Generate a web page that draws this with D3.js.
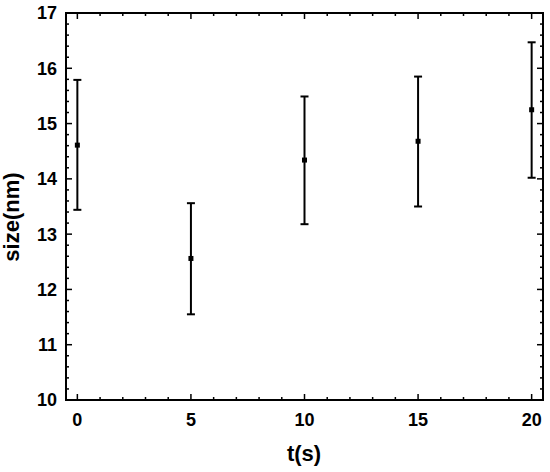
<!DOCTYPE html>
<html>
<head>
<meta charset="utf-8">
<style>
body { margin: 0; background: #fff; }
text { font-family: "Liberation Sans", Arial, sans-serif; font-weight: bold; fill: #000; }
</style>
</head>
<body>
<svg width="550" height="472"></svg>
<script src="https://cdn.jsdelivr.net/npm/d3@7"></script>
<script>
// data
var times = [0, 5, 10, 15, 20];
var sizes = [14.61, 12.56, 14.34, 14.68, 15.25];
var upper = [15.79, 13.56, 15.49, 15.85, 16.47];
var lower = [13.44, 11.55, 13.18, 13.50, 14.02];
var xTicks = [0, 5, 10, 15, 20];
var yTicks = [10, 11, 12, 13, 14, 15, 16, 17];

var svg = d3.select("svg"),
    margin = {left: 66, top: 13, right: 7, bottom: 72},
    width = 550 - margin.left - margin.right,
    height = 472 - margin.top - margin.bottom;

var x = d3.scaleLinear().domain([-0.5, 20.5]).range([0, width]);
var y = d3.scaleLinear().domain([10, 17]).range([height, 0]);

var g = svg.append("g").attr("transform", "translate(" + margin.left + "," + margin.top + ")");

// minor ticks
var xMinor = d3.range(0, 21, 1);
var yMinor = d3.range(10, 17.001, 0.2);

function tickLines(vals, major, horizontal) {
  vals.forEach(function(v) {
    var len = major.indexOf(Math.round(v * 10) / 10) >= 0 ? 6 : 3;
    if (horizontal) {
      g.append("line").attr("x1", x(v)).attr("x2", x(v)).attr("y1", height).attr("y2", height - len)
        .attr("stroke", "#000").attr("stroke-width", 1.5);
      g.append("line").attr("x1", x(v)).attr("x2", x(v)).attr("y1", 0).attr("y2", len)
        .attr("stroke", "#000").attr("stroke-width", 1.5);
    } else {
      g.append("line").attr("y1", y(v)).attr("y2", y(v)).attr("x1", 0).attr("x2", len)
        .attr("stroke", "#000").attr("stroke-width", 1.5);
      g.append("line").attr("y1", y(v)).attr("y2", y(v)).attr("x1", width).attr("x2", width - len)
        .attr("stroke", "#000").attr("stroke-width", 1.5);
    }
  });
}
tickLines(xMinor, xTicks, true);
tickLines(yMinor, yTicks, false);

// frame
g.append("rect").attr("width", width).attr("height", height)
  .attr("fill", "none").attr("stroke", "#000").attr("stroke-width", 2);

// tick labels
g.selectAll(".xl").data(xTicks).enter().append("text")
  .attr("x", function(d) { return x(d); }).attr("y", height + 26)
  .attr("text-anchor", "middle").style("font-size", "18px").text(function(d) { return d; });
g.selectAll(".yl").data(yTicks).enter().append("text")
  .attr("x", -9).attr("y", function(d) { return y(d); }).attr("dy", "0.36em")
  .attr("text-anchor", "end").style("font-size", "18px").text(function(d) { return d; });

// axis titles
svg.append("text").attr("x", 304).attr("y", 461)
  .attr("text-anchor", "middle").style("font-size", "22px").text("t(s)");
svg.append("text").attr("transform", "translate(19,217) rotate(-90)")
  .attr("text-anchor", "middle").style("font-size", "22px").text("size(nm)");

// error bars
var pts = times.map(function(t, i) { return {t: t, v: sizes[i], hi: upper[i], lo: lower[i]}; });
var eb = g.selectAll(".eb").data(pts).enter().append("g");
eb.append("line").attr("x1", function(d) { return x(d.t); }).attr("x2", function(d) { return x(d.t); })
  .attr("y1", function(d) { return y(d.hi); }).attr("y2", function(d) { return y(d.lo); })
  .attr("stroke", "#000").attr("stroke-width", 2);
eb.append("line").attr("x1", function(d) { return x(d.t) - 4; }).attr("x2", function(d) { return x(d.t) + 4; })
  .attr("y1", function(d) { return y(d.hi); }).attr("y2", function(d) { return y(d.hi); })
  .attr("stroke", "#000").attr("stroke-width", 2);
eb.append("line").attr("x1", function(d) { return x(d.t) - 4; }).attr("x2", function(d) { return x(d.t) + 4; })
  .attr("y1", function(d) { return y(d.lo); }).attr("y2", function(d) { return y(d.lo); })
  .attr("stroke", "#000").attr("stroke-width", 2);
eb.append("rect").attr("x", function(d) { return x(d.t) - 2.5; }).attr("y", function(d) { return y(d.v) - 2.5; })
  .attr("width", 5).attr("height", 5).attr("fill", "#000");
</script>
</body>
</html>
